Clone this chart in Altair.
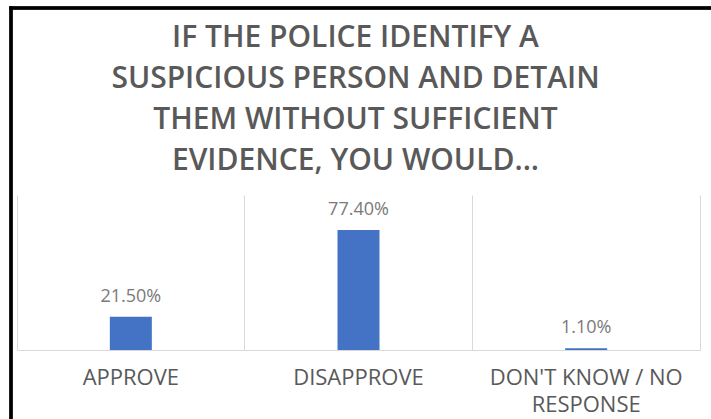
import altair as alt
import pandas as pd

categories = ["APPROVE", "DISAPPROVE", "DON'T KNOW / NO RESPONSE"]
values = [21.5, 77.4, 1.1]
title_lines = ["IF THE POLICE IDENTIFY A", "SUSPICIOUS PERSON AND DETAIN",
               "THEM WITHOUT SUFFICIENT", "EVIDENCE, YOU WOULD..."]

df = pd.DataFrame({"category": categories, "value": values})

GREY = "#595959"
GRID = "#d9d9d9"
BLUE = "#4472C4"

x_enc = alt.X("category:N", sort=categories, title=None,
              scale=alt.Scale(paddingInner=0, paddingOuter=0),
              axis=alt.Axis(labelAngle=0, ticks=False, domainColor=GRID,
                            grid=True, gridColor=GRID, bandPosition=0,
                            labelFont="Open Sans", labelFontSize=22,
                            labelColor=GREY, labelPadding=17,
                            labelLineHeight=27, labelLimit=300,
                            labelExpr="datum.label == \"DON'T KNOW / NO RESPONSE\" ? [\"DON'T KNOW / NO\", 'RESPONSE'] : datum.label"))
y_enc = alt.Y("value:Q", title=None, scale=alt.Scale(domain=[0, 100], nice=False),
              axis=alt.Axis(orient="right", labels=False, ticks=False, grid=False,
                            domain=True, domainColor=GRID))

base = alt.Chart(df)

bars = base.mark_bar(size=42, color=BLUE).encode(x=x_enc, y=y_enc)

labels = base.mark_text(font="Open Sans", fontSize=18, color="#7a7a7a",
                        baseline="alphabetic", dy=-15).transform_calculate(
    label="format(datum.value, '.2f') + '%'"
).encode(x=alt.X("category:N", sort=categories), y="value:Q", text="label:N")

frame_left = base.mark_rule(color="black", strokeWidth=3).encode(
    x=alt.value(-6), y=alt.value(-188.5), y2=alt.value(230))
frame_top = base.mark_rule(color="black", strokeWidth=3).encode(
    x=alt.value(-7.5), x2=alt.value(700), y=alt.value(-187))

chart = alt.layer(bars, labels, frame_left, frame_top).properties(
    width=683, height=155,
    title=alt.TitleParams(text=title_lines, font="Open Sans", fontSize=30,
                          fontWeight=600, color=GREY, lineHeight=41,
                          anchor="middle", offset=-171, dx=-3, frame="group"),
    padding={"left": 17, "top": 195, "right": 11, "bottom": 69},
    autosize=alt.AutoSizeParams(type="none"),
).configure(background="white", view=alt.ViewConfig(stroke=None))

chart.save("out.html", embed_options={"renderer": "svg", "actions": False})
